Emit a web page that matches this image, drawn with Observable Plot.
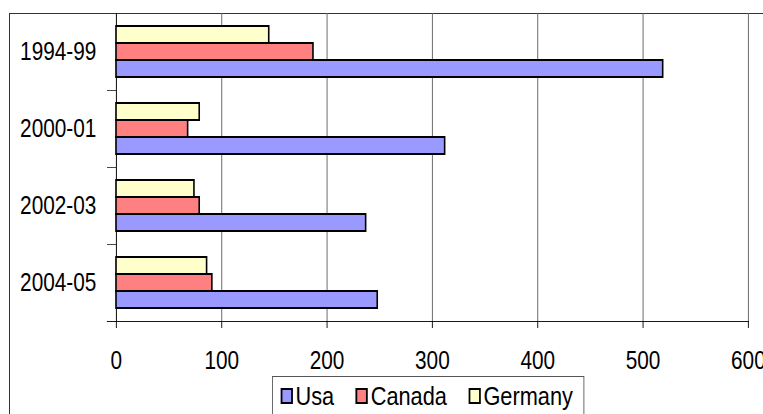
<!DOCTYPE html>
<html>
<head>
<meta charset="utf-8">
<script src="https://cdn.jsdelivr.net/npm/d3@7"></script>
<script src="https://cdn.jsdelivr.net/npm/@observablehq/plot@0.6"></script>
<style>
  body { margin: 0; background: #fff; }
  #chart {
    position: relative; width: 763px; height: 414px; overflow: hidden;
    font-family: "Liberation Sans", Arial, sans-serif;
  }
  #frame {
    position: absolute; left: 9px; top: 13px; width: 900px; height: 600px;
    border-top: 1px solid #333; border-left: 1px solid #333;
  }
  #chart svg { position: absolute; left: 0; top: 0; }
  #legend {
    position: absolute; left: 272px; top: 376px; height: 60px;
    border: 1px solid #555; background: #fff; box-sizing: border-box;
    transform: scaleX(0.87); transform-origin: 0 0;
    display: flex; align-items: center; align-self: flex-start;
    padding: 7px 0 0 9px; font-size: 25px; line-height: 24px; color: #000;
  }
  #legend .row { display: flex; align-items: center; height: 24px; }
  #legend .item { display: flex; align-items: center; margin-right: 25px; }
  #legend .item:last-child { margin-right: 0; }
  #legend .sw { width: 14px; height: 16px; border: 2px solid #000; margin-right: 3px; box-sizing: border-box; }
</style>
</head>
<body>
<div id="chart"><div id="frame"></div></div>
<script>
// Periods (top to bottom) and the three countries
const periods = ["1994-99", "2000-01", "2002-03", "2004-05"];
const countries = ["Usa", "Canada", "Germany"];
const colors = ["#9999ff", "#ff8080", "#ffffcc"];

// Values per period, one array per country
const usa = [519, 312, 237, 248];
const canada = [187, 68, 79, 91];
const germany = [145, 79, 74, 86];

// Value axis ticks
const xTicks = [0, 100, 200, 300, 400, 500, 600];

const series = {Usa: usa, Canada: canada, Germany: germany};
const rows = periods.flatMap((period, i) =>
  countries.map((country) => ({period, country, value: series[country][i]}))
);

// The chart is laid out wider and shown horizontally condensed,
// which gives the narrow lettering of the original chart.
const W = 763, H = 414, squeeze = 0.8;
const Wi = W / squeeze;
const margin = {top: 13, right: 15 / squeeze, bottom: 93, left: 116 / squeeze};
const step = (H - margin.top - margin.bottom) / periods.length;

const svg = Plot.plot({
  width: Wi,
  height: H,
  marginTop: margin.top,
  marginRight: margin.right,
  marginBottom: margin.bottom,
  marginLeft: margin.left,
  style: {background: "transparent", fontFamily: '"Liberation Sans", Arial, sans-serif', fontSize: "26px", color: "#000", overflow: "visible"},
  fy: {domain: periods, padding: 0, axis: null},
  y: {domain: ["Germany", "Canada", "Usa"], paddingInner: 0, paddingOuter: 0.75, axis: null},
  x: {domain: [0, 600], axis: null},
  color: {domain: countries, range: colors},
  marks: [
    Plot.ruleX(xTicks.slice(1), {stroke: "#666", strokeWidth: 1.2}),
    Plot.ruleX([0], {stroke: "#000", strokeWidth: 1.2}),
    Plot.barX(rows, {fy: "period", y: "country", x: "value", fill: "country", stroke: "#000", strokeWidth: 2}),
    // category labels centred on each group
    Plot.axisFy({anchor: "left", tickSize: 0, tickPadding: 20 / squeeze, label: null, fontSize: 26}),
    // category boundary ticks
    Plot.axisFy({anchor: "left", tickSize: 9 / squeeze, tickFormat: () => "", dy: -step / 2, label: null, stroke: "#333"}),
    Plot.axisX({anchor: "bottom", ticks: xTicks, tickSize: 7, tickPadding: 22, label: null, fontSize: 26, stroke: "#000"}),
    Plot.frame({anchor: "bottom", facetAnchor: "bottom", insetLeft: -9 / squeeze, stroke: "#000"})
  ]
});
svg.setAttribute("width", W);
svg.setAttribute("height", H);
svg.setAttribute("preserveAspectRatio", "none");
svg.style.width = W + "px";
svg.style.height = H + "px";
svg.style.maxWidth = "none";
document.getElementById("chart").appendChild(svg);

// Legend built from the same country list and colours
const legend = document.createElement("div");
legend.id = "legend";
const row = document.createElement("div");
row.className = "row";
countries.forEach((c, i) => {
  const item = document.createElement("div");
  item.className = "item";
  const sw = document.createElement("span");
  sw.className = "sw";
  sw.style.background = colors[i];
  const label = document.createElement("span");
  label.textContent = c;
  item.appendChild(sw);
  item.appendChild(label);
  row.appendChild(item);
});
legend.appendChild(row);
document.getElementById("chart").appendChild(legend);
// keep the legend box 312px wide on screen
legend.style.width = (312 / 0.87) + "px";
legend.style.alignItems = "flex-start";
</script>
</body>
</html>
